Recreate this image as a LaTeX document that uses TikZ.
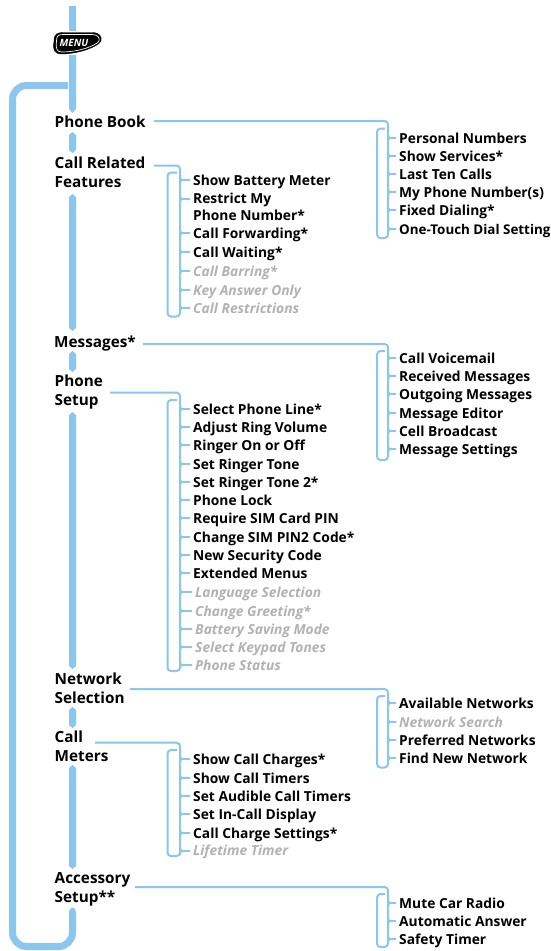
\documentclass[tikz,border=0pt]{standalone}
\usepackage{fontspec}
\setmainfont{Open Sans}
\definecolor{lineblue}{HTML}{8AC6EE}
\definecolor{grayitem}{HTML}{B2B2B2}
\tikzset{x=1pt,y=-1pt,
  head/.style={anchor=base west,inner sep=0pt,align=left,font=\fontsize{15.3}{19}\selectfont\bfseries,text=black},
  item/.style={anchor=base west,inner sep=0pt,font=\fontsize{13.8}{17}\selectfont\bfseries,text=black},
  off/.style={anchor=base west,inner sep=0pt,font=\fontsize{13.8}{17}\selectfont\bfseries\itshape,text=grayitem},
  thin link/.style={draw=lineblue,line width=2pt,line join=round},
  bar/.style={fill=lineblue,draw=none},
  loop line/.style={draw=lineblue,line width=7pt}}
\newcommand{\railset}[6]{% start coord, y, xr, ytop, ybot, xl
  \draw[thin link,rounded corners=3.5pt] (#1 |- 0,#2) -- (#3,#2) -- (#3,#5) -- (#6,#5) -- (#6,#4) -- (#3-3,#4);}
\newcommand{\tick}[3]{% xr, item name, y
  \draw[thin link,line width=1.6pt] (#1,#3-4) .. controls (#1,#3-1) and (#1+1,#3) .. (#1+3,#3) -- ([xshift=-3pt]#2.west |- 0,#3);
  \draw[thin link,line width=1.6pt] (#1,#3+4) .. controls (#1,#3+1) and (#1+1,#3) .. (#1+3,#3);}
\newcommand{\seg}[2]{\fill[bar] (69,#1+3) -- (72.5,#1) -- (76,#1+3) -- (76,#2-3) -- (72.5,#2) -- (69,#2-3) -- cycle;}
\begin{document}
\begin{tikzpicture}
\useasboundingbox (0,0) rectangle (551,951);
\fill[white] (0,0) rectangle (551,951);
% main trunk
\fill[bar] (69,6) rectangle (76,31);
\fill[bar] (69,55) -- (76,55) -- (76,109) -- (72.5,113) -- (69,109) -- cycle;
\seg{132}{153}
\seg{194}{331}
\seg{351}{372}
\seg{412}{669}
\seg{707}{728}
\seg{765}{869}
% return loop
\draw[loop line,rounded corners=14pt] (68,85.5) -- (12.5,85.5) -- (12.5,946.5) -- (72.5,946.5) -- (72.5,912);
\fill[lineblue] (69,912) -- (70,909) -- (72.5,907.5) -- (75,909) -- (76,912) -- cycle;
% menu button
\fill[black,draw=black,line width=.3pt] (54,41) .. controls (54,33) and (58,32.5) .. (64,32.5) -- (92,32.5) .. controls (100,32.5) and (102,37) .. (101,41) .. controls (98,47) and (78,54) .. (62,54) .. controls (55,54) and (52.5,51) .. (54,41) -- cycle;
\draw[white,line width=.7pt] (56.5,41) .. controls (56.5,35) and (59,34.5) .. (64,34.5) -- (92,34.5) .. controls (98,34.5) and (100,38) .. (99,41) .. controls (96,46) and (78,52) .. (62,52) .. controls (57,52) and (55.5,49) .. (56.5,41) -- cycle;
\node[inner sep=0pt,text=white,font=\fontsize{10}{10}\selectfont\bfseries\itshape] (menu) at (74,43) {MENU};
% headings
\node[head] (pb) at (54.5,127) {Phone Book};
\node[head] (crf) at (54.5,187.7) {Call Related\\Features};
\node[head] (msg) at (54,347) {Messages*};
\node[head] (ps) at (54.5,405) {Phone\\Setup};
\node[head] (ns) at (54.5,703) {Network\\Selection};
\node[head] (cm) at (54.5,761) {Call\\Meters};
\node[head] (as) at (54.5,902) {Accessory\\Setup**};
\coordinate (pbs) at (154,121);
\coordinate (crfs) at (154,165.5);
\coordinate (msgs) at (143,344);
\coordinate (pss) at (110,392.5);
\coordinate (nss) at (130,689);
\coordinate (cms) at (95,742.7);
\coordinate (ass) at (135,887);
% branches
\railset{pbs}{121}{388}{128.5}{238}{377}
\railset{crfs}{165.5}{180}{172.5}{316.5}{167.5}
\railset{msgs}{344}{388}{351}{460}{377}
\railset{pss}{392.5}{180}{400}{671}{167.5}
\railset{nss}{689}{388}{696}{767.5}{377}
\railset{cms}{742.7}{180}{750}{856}{167.5}
\railset{ass}{887}{388}{894}{947}{377}
% items: Phone Book
\node[item] (a1) at (399,143) {Personal Numbers};
\node[item] (a2) at (399,161) {Show Services*};
\node[item] (a3) at (399,179) {Last Ten Calls};
\node[item] (a4) at (399,197) {My Phone Number(s)};
\node[item] (a5) at (399,215) {Fixed Dialing*};
\node[item,font=\fontsize{13.4}{17}\selectfont\bfseries] (a6) at (399,234) {One-Touch Dial Setting};
\foreach \n/\y in {a1/138,a2/156,a3/174,a4/192,a5/210,a6/229} {\tick{388}{\n}{\y}}
% Call related
\node[item] (b1) at (193,185) {Show Battery Meter};
\node[item] (b2) at (193,203) {Restrict My};
\node[item] (b2b) at (193,220) {Phone Number*};
\node[item] (b3) at (193,238) {Call Forwarding*};
\node[item] (b4) at (193,257) {Call Waiting*};
\node[off] (b5) at (193,276) {Call Barring*};
\node[off] (b6) at (193,295) {Key Answer Only};
\node[off] (b7) at (193,313) {Call Restrictions};
\foreach \n/\y in {b1/180,b2/199,b3/233,b4/252,b5/271,b6/290,b7/308} {\tick{180}{\n}{\y}}
% Messages
\node[item] (c1) at (399,363) {Call Voicemail};
\node[item] (c2) at (399,381) {Received Messages};
\node[item] (c3) at (399,399) {Outgoing Messages};
\node[item] (c4) at (399,418) {Message Editor};
\node[item] (c5) at (399,436) {Cell Broadcast};
\node[item] (c6) at (399,454) {Message Settings};
\foreach \n/\y in {c1/358,c2/376,c3/394,c4/413,c5/431,c6/449} {\tick{388}{\n}{\y}}
% Phone setup
\node[item] (d1) at (193,414) {Select Phone Line*};
\node[item] (d2) at (193,432) {Adjust Ring Volume};
\node[item] (d3) at (193,450) {Ringer On or Off};
\node[item] (d4) at (193,469) {Set Ringer Tone};
\node[item] (d5) at (193,487) {Set Ringer Tone 2*};
\node[item] (d6) at (193,505) {Phone Lock};
\node[item] (d7) at (193,523) {Require SIM Card PIN};
\node[item] (d8) at (193,542) {Change SIM PIN2 Code*};
\node[item] (d9) at (193,560) {New Security Code};
\node[item] (d10) at (193,578) {Extended Menus};
\node[off] (d11) at (195,597) {Language Selection};
\node[off] (d12) at (195,616) {Change Greeting*};
\node[off] (d13) at (195,634) {Battery Saving Mode};
\node[off] (d14) at (195,652) {Select Keypad Tones};
\node[off] (d15) at (195,670) {Phone Status};
\foreach \n/\y in {d1/409,d2/427,d3/445,d4/464,d5/482,d6/500,d7/518,d8/537,d9/555,d10/573,d11/592,d12/611,d13/629,d14/647,d15/665} {\tick{180}{\n}{\y}}
% Network
\node[item] (e1) at (399,708) {Available Networks};
\node[off] (e2) at (399,727) {Network Search};
\node[item] (e3) at (399,745) {Preferred Networks};
\node[item] (e4) at (399,763) {Find New Network};
\foreach \n/\y in {e1/703,e2/722,e3/740,e4/758} {\tick{388}{\n}{\y}}
% Call meters
\node[item] (f1) at (193,764) {Show Call Charges*};
\node[item] (f2) at (193,783) {Show Call Timers};
\node[item] (f3) at (193,801) {Set Audible Call Timers};
\node[item] (f4) at (193,819) {Set In-Call Display};
\node[item] (f5) at (193,838) {Call Charge Settings*};
\node[off] (f6) at (193,855) {Lifetime Timer};
\foreach \n/\y in {f1/759,f2/778,f3/796,f4/814,f5/833,f6/851} {\tick{180}{\n}{\y}}
% Accessory
\node[item] (g1) at (399,908) {Mute Car Radio};
\node[item] (g2) at (399,926) {Automatic Answer};
\node[item] (g3) at (399,944) {Safety Timer};
\foreach \n/\y in {g1/903,g2/921,g3/939} {\tick{388}{\n}{\y}}
\end{tikzpicture}
\end{document}
